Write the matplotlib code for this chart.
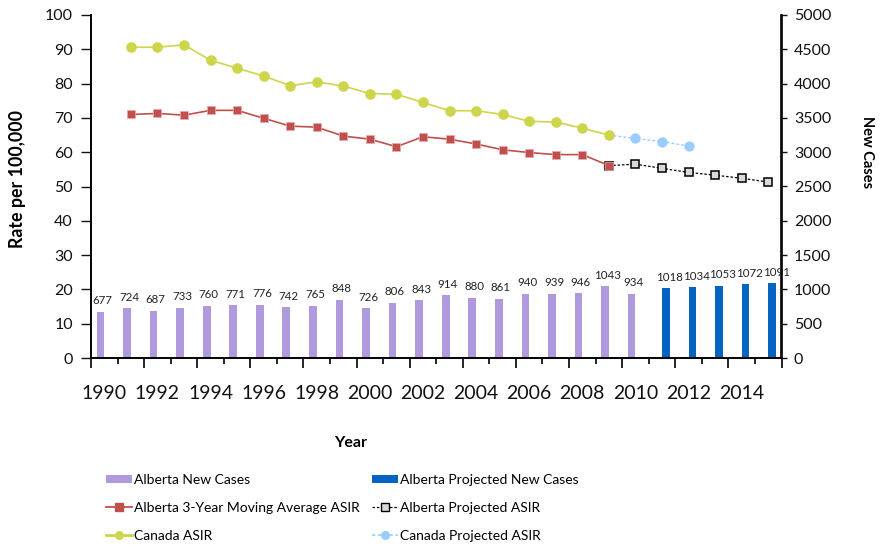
import numpy as np
import matplotlib
matplotlib.use("Agg")
import matplotlib.pyplot as plt
from matplotlib.lines import Line2D
from matplotlib.patches import Patch

plt.rcParams['font.family'] = ['Lato', 'DejaVu Sans']

# Alberta new cases (bars, right axis)
case_years = list(range(1990, 2011))
new_cases = [677, 724, 687, 733, 760, 771, 776, 742, 765, 848, 726,
             806, 843, 914, 880, 861, 940, 939, 946, 1043, 934]
proj_case_years = list(range(2011, 2016))
proj_new_cases = [1018, 1034, 1053, 1072, 1091]

# Age-standardized incidence rates (lines, left axis)
asir_years = list(range(1991, 2010))
alberta_asir = [71.0, 71.3, 70.8, 72.2, 72.2, 69.9, 67.6, 67.3, 64.7, 63.8,
                61.6, 64.5, 63.8, 62.4, 60.7, 59.9, 59.3, 59.3, 56.1]
canada_asir = [90.6, 90.6, 91.3, 86.8, 84.5, 82.2, 79.4, 80.5, 79.3, 77.1,
               76.9, 74.5, 72.1, 72.1, 71.0, 69.0, 68.8, 67.0, 65.0]
alberta_proj_years = list(range(2009, 2016))
alberta_proj_asir = [56.1, 56.5, 55.3, 54.1, 53.3, 52.4, 51.3]
canada_proj_years = list(range(2009, 2013))
canada_proj_asir = [65.0, 64.0, 63.1, 61.8]

purple = '#AE9ADC'
blue = '#0563C1'
red = '#C0504D'
yellow = '#CDD64A'
lightblue = '#99CCFF'

fig = plt.figure(figsize=(8.81, 5.49), dpi=100)
ax = fig.add_axes([91 / 881, 1 - 358 / 549, 690.5 / 881, 343 / 549])
ax2 = ax.twinx()
ax.set_zorder(ax2.get_zorder() + 1)
ax.patch.set_visible(False)

bw = 0.29
ax2.bar(np.array(case_years) - bw / 2, new_cases, width=bw, color=purple, zorder=2)
ax2.bar(np.array(proj_case_years) + bw / 2, proj_new_cases, width=bw, color=blue, zorder=2)
for x, v in zip(case_years, new_cases):
    ax2.annotate(str(v), (x - bw / 2 + 0.08, v), xytext=(0, 4), textcoords='offset points',
                 ha='center', va='bottom', fontsize=8.3, color='#222222')
for x, v in zip(proj_case_years, proj_new_cases):
    ax2.annotate(str(v), (x + bw / 2 + 0.15, v), xytext=(0, 4), textcoords='offset points',
                 ha='center', va='bottom', fontsize=8.3, color='#222222')

ax.plot(alberta_proj_years, alberta_proj_asir, color='black', ls=(0, (2, 1.5)), lw=0.9,
        marker='s', ms=6.0, mfc='#D9D9D9', mec='black', mew=1.1, zorder=3)
ax.plot(canada_proj_years[1:], canada_proj_asir[1:], ls='none',
        marker='o', ms=6.4, mfc=lightblue, mec=lightblue, zorder=3)
ax.plot(canada_proj_years, canada_proj_asir, color=lightblue, ls=(0, (2, 1.5)), lw=1.0, zorder=2.5)
ax.plot(asir_years, alberta_asir, color=red, lw=1.2, marker='s', ms=6.4,
        mfc=red, mec='#E8A9A7', mew=0.5, zorder=4)
ax.plot(asir_years, canada_asir, color=yellow, lw=1.2, marker='o', ms=6.6,
        mfc=yellow, mec=yellow, zorder=4)

ax.set_xlim(1989.5, 2015.5)
ax.set_ylim(0, 100)
ax2.set_ylim(0, 5000)
ax.set_yticks(np.arange(0, 101, 10))
ax2.set_yticks(np.arange(0, 5001, 500))

# category boundaries as tick marks, year labels centred between them
ax.set_xticks(np.arange(1989.5, 2016, 2))
ax.set_xticks(np.arange(1990.5, 2016, 2), minor=True)
ax.tick_params(axis='x', which='major', length=7, width=1.2, labelbottom=False)
ax.tick_params(axis='x', which='minor', length=4, width=1.2)
for yr in range(1990, 2015, 2):
    ax.text(yr, -0.08, str(yr), transform=ax.get_xaxis_transform(),
            ha='center', va='top', fontsize=14, color='#111111')

ax.tick_params(axis='y', which='major', length=7, width=1.0, labelsize=11.5, pad=6,
               colors='#111111')
ax2.tick_params(axis='y', which='major', length=4, width=1.0, labelsize=11.5, pad=5,
                colors='#111111')

for a in (ax, ax2):
    a.spines['top'].set_visible(False)
    for s in ('left', 'right', 'bottom'):
        a.spines[s].set_linewidth(1.2)
        a.spines[s].set_color('black')

fig.text(18 / 881, 1 - 179 / 549, 'Rate per 100,000', rotation=90, ha='center', va='center',
         fontsize=12.8, fontweight='bold')
fig.text(867 / 881, 1 - 152 / 549, 'New Cases', rotation=-90, ha='center', va='center',
         fontsize=10.5, fontweight='bold')
fig.text(351 / 881, 1 - 443 / 549, 'Year', ha='center', va='center',
         fontsize=11.5, fontweight='bold')

handles_left = [
    Patch(facecolor=purple, edgecolor='none'),
    Line2D([], [], color=red, lw=1.3, marker='s', ms=5.5, mfc=red, mec=red),
    Line2D([], [], color=yellow, lw=2, marker='o', ms=5.5, mfc=yellow, mec=yellow),
]
labels_left = ['Alberta New Cases', 'Alberta 3-Year Moving Average ASIR', 'Canada ASIR']
handles_right = [
    Patch(facecolor=blue, edgecolor='none'),
    Line2D([], [], color='black', ls=(0, (2, 1.5)), lw=0.9, marker='s', ms=5.5,
           mfc='#D9D9D9', mec='black', mew=1.0),
    Line2D([], [], color=lightblue, ls=(0, (2, 1.5)), lw=1.2, marker='o', ms=5.5,
           mfc=lightblue, mec=lightblue),
]
labels_right = ['Alberta Projected New Cases', 'Alberta Projected ASIR', 'Canada Projected ASIR']

leg_kw = dict(loc='upper left', frameon=False, fontsize=10.0,
              handlelength=1.9, handleheight=0.55, handletextpad=0.15,
              labelspacing=1.15, borderaxespad=0, borderpad=0.0)
fig.legend(handles_left, labels_left, bbox_to_anchor=(106 / 881, 1 - 474 / 549), **leg_kw)
fig.legend(handles_right, labels_right, bbox_to_anchor=(372 / 881, 1 - 474 / 549), **leg_kw)

fig.savefig('out.png', dpi=100)
